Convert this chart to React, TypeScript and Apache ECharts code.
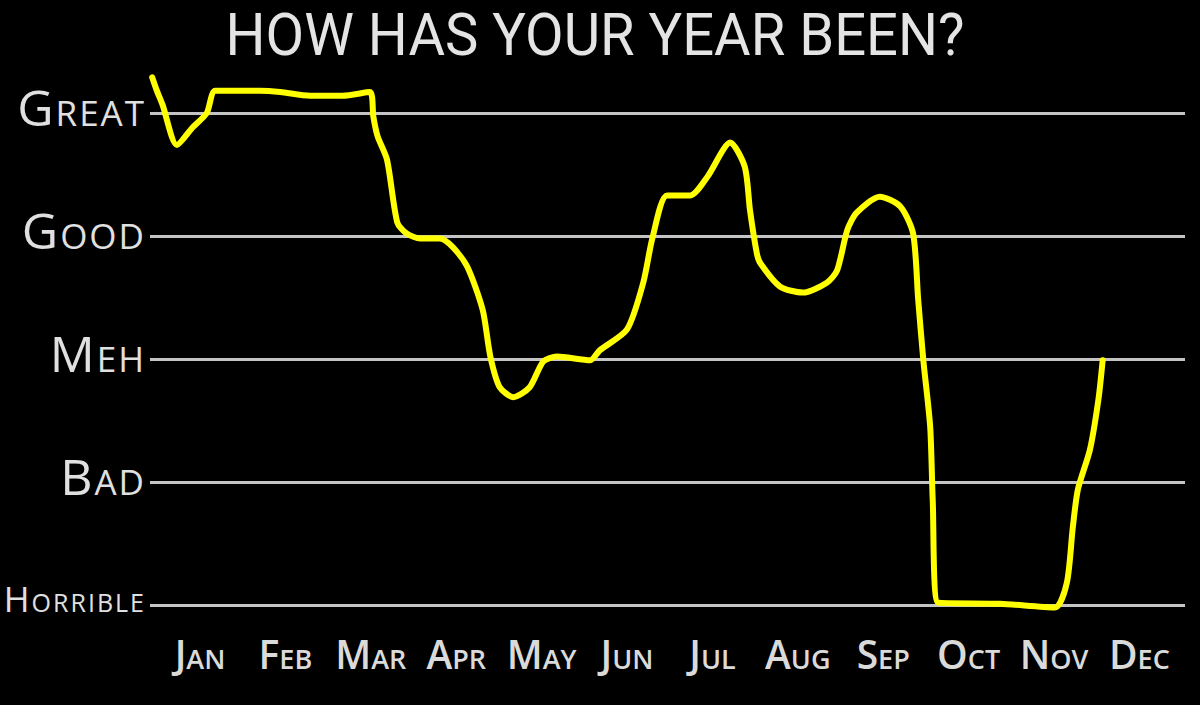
import React, { useEffect, useRef } from "react";
import * as echarts from "echarts";

const titleText = "HOW HAS YOUR YEAR BEEN?";
const months = ["Jan", "Feb", "Mar", "Apr", "May", "Jun", "Jul", "Aug", "Sep", "Oct", "Nov", "Dec"];
const monthValues = [1, 2, 3, 4, 5, 6, 7, 8, 9, 10, 11, 12];
const levels = ["Horrible", "Bad", "Meh", "Good", "Great"];

// hand-drawn mood line: x in months (1 = Jan), y in level index (0 = Horrible, 4 = Great)
const moodX = [
  0.44, 0.49, 0.56, 0.73, 0.91, 1.08, 1.18, 1.70, 1.94, 2.29, 2.67, 2.99,
  3.03, 3.08, 3.19, 3.31, 3.42, 3.58, 3.81, 3.96, 4.13, 4.31, 4.40, 4.51,
  4.67, 4.86, 5.02, 5.18, 5.57, 5.68, 6.00, 6.19, 6.30, 6.47, 6.74, 6.94,
  7.21, 7.38, 7.44, 7.52, 7.56, 7.79, 8.06, 8.34, 8.46, 8.58, 8.69, 8.96,
  9.20, 9.35, 9.41, 9.47, 9.55, 9.58, 9.64, 10.37, 11.01, 11.15, 11.22, 11.28,
  11.42, 11.52, 11.57,
];
const moodY = [
  4.29, 4.19, 4.07, 3.74, 3.88, 4.0, 4.18, 4.18, 4.17, 4.14, 4.14, 4.17,
  3.97, 3.81, 3.62, 3.11, 3.02, 2.98, 2.98, 2.91, 2.75, 2.40, 2.02, 1.77,
  1.69, 1.77, 1.98, 2.02, 1.99, 2.07, 2.24, 2.62, 2.99, 3.33, 3.33, 3.48,
  3.76, 3.56, 3.21, 2.86, 2.78, 2.59, 2.54, 2.62, 2.72, 3.05, 3.19, 3.32,
  3.24, 3.02, 2.48, 1.99, 1.45, 0.85, 0.02, 0.01, -0.02, 0.18, 0.63, 0.94,
  1.26, 1.67, 1.99,
];

const LABEL_FONT = "'Open Sans', 'Noto Sans', sans-serif";
const CSS = `
#root svg text, #root svg tspan { font-variant-caps: small-caps !important; }
#root svg text[text-anchor="end"], #root svg text[text-anchor="end"] tspan { letter-spacing: 2px; }
`;

export default function App() {
  const ref = useRef<HTMLDivElement>(null);
  useEffect(() => {
    document.body.style.margin = "0";
    document.body.style.background = "#000";
    const chart = echarts.init(ref.current!, null, { renderer: "svg" });
    chart.setOption({
      animation: false,
      backgroundColor: "#000",
      graphic: [
        {
          type: "text",
          x: 595,
          y: 34,
          scaleX: 0.935,
          style: {
            text: titleText,
            fill: "#e4e4e4",
            font: "400 60px Roboto",
            align: "center",
            verticalAlign: "middle",
          },
        },
      ],
      grid: { left: 150, right: 15, top: 113, bottom: 100 },
      xAxis: {
        type: "value",
        min: 1 - 50 / 85.4,
        max: 1 + 985 / 85.4,
        axisLine: { show: false },
        axisTick: { show: false },
        splitLine: { show: false },
        axisLabel: {
          customValues: monthValues,
          formatter: (v: number) => months[Math.round(v) - 1] ?? "",
          color: "#dadada",
          fontFamily: LABEL_FONT,
          fontWeight: 600,
          fontSize: 39,
          margin: 29,
        },
      },
      yAxis: {
        type: "value",
        min: 0,
        max: 4,
        interval: 1,
        axisLine: { show: false },
        axisTick: { show: false },
        splitLine: { lineStyle: { color: "#c4c4c4", width: 3 } },
        axisLabel: {
          margin: 4,
          color: "#e0e0e0",
          fontFamily: LABEL_FONT,
          fontSize: 50,
          padding: [0, 0, 12, 0],
          formatter: (v: number) => (v === 0 ? "{h|" + levels[0] + "}" : levels[v]),
          rich: {
            h: {
              color: "#e0e0e0",
              fontFamily: LABEL_FONT,
              fontSize: 35,
              padding: [0, 0, 2, 0],
            },
          },
        },
      },
      series: [
        {
          type: "line",
          data: moodX.map((x, i) => [x, moodY[i]]),
          smooth: 0.25,
          clip: false,
          showSymbol: false,
          symbol: "none",
          lineStyle: { color: "#ffff00", width: 6, cap: "round", join: "round" },
        },
      ],
    });
    return () => chart.dispose();
  }, []);
  return (
    <>
      <style>{CSS}</style>
      <div ref={ref} style={{ position: "fixed", left: 0, top: 0, width: 1200, height: 705 }} />
    </>
  );
}
